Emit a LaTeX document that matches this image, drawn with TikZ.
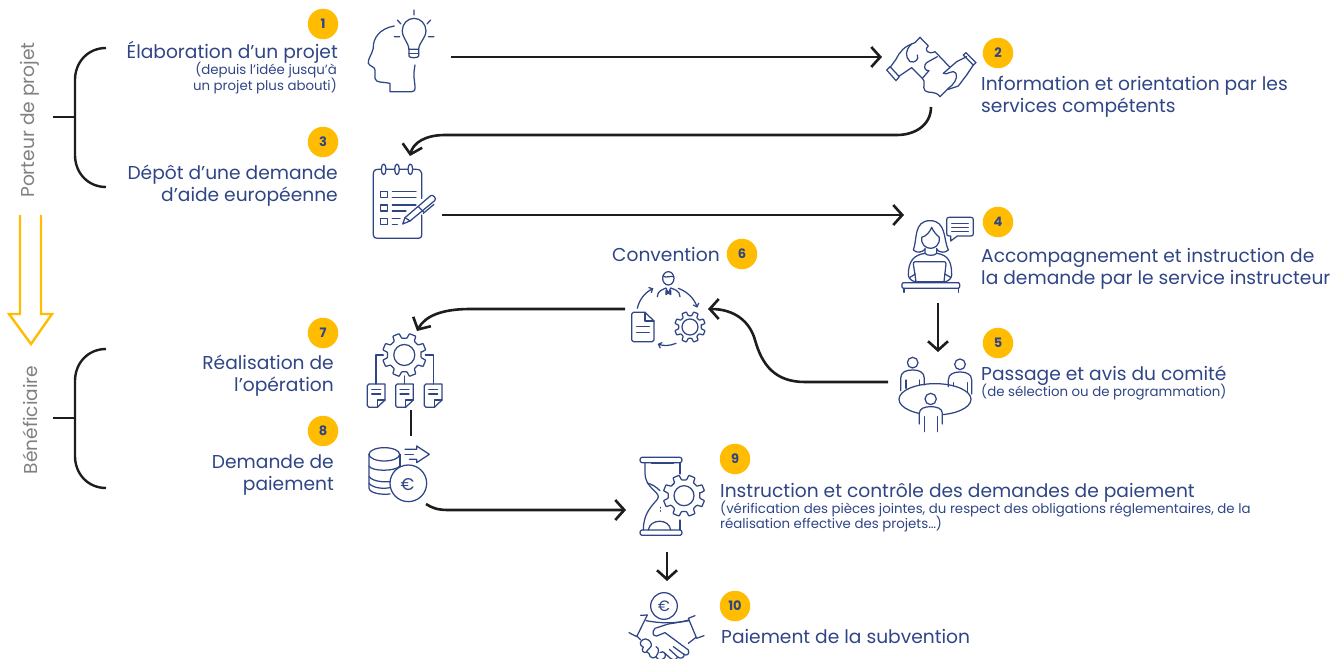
\documentclass[tikz,border=0pt]{standalone}
\usepackage{fontspec}
\setmainfont{Poppins}
\usetikzlibrary{arrows.meta}
\definecolor{navy}{HTML}{2F4585}
\definecolor{amber}{HTML}{FFBC00}
\definecolor{inkk}{HTML}{1D1D1B}
\definecolor{greyt}{HTML}{808080}
\tikzset{
 zm/.style 2 args={shift={(#1,#2)},x=.3333pt,y=-.3333pt},
 ico/.style={draw=navy,line width=1.25pt,line join=round,line cap=round},
 conn/.style={draw=inkk,line width=2.6pt},
 arr/.style={conn,-{Straight Barb[length=9pt,width=20pt,line width=2.6pt]}},
 brace/.style={draw=inkk,line width=2.4pt},
 badge/.style={circle,fill=amber,minimum size=30.5pt,inner sep=0pt,text=navy,font=\fontsize{13}{13}\selectfont\bfseries},
 big/.style={text=navy,inner sep=0pt,font=\fontsize{18.65}{18.65}\selectfont},
 small/.style={text=navy,inner sep=0pt,font=\fontsize{13.33}{13.33}\selectfont},
 role/.style={text=greyt,inner sep=0pt,rotate=90,font=\fontsize{18.65}{18.65}\selectfont},
}
\newcommand\gearshape[6]{% cx cy R rb hole teeth
 \pgfmathsetmacro\gstep{360/#6}
 \pgfmathsetmacro\gw{\gstep*0.2}
 \pgfmathsetmacro\gv{\gstep*0.3}
 \begin{scope}[shift={(#1,#2)},x=1pt,y=1pt]
 \draw[ico,fill=white,rounded corners=.6pt] (\gstep/2-\gv+0:#4)
  \foreach \k in {0,...,\numexpr#6-1\relax}{
   -- ({\k*\gstep+\gstep/2-\gv}:#4) -- ({\k*\gstep+\gstep/2-\gw}:#3) -- ({\k*\gstep+\gstep/2+\gw}:#3) -- ({\k*\gstep+\gstep/2+\gv}:#4)
  } -- cycle;
 \draw[ico] (0,0) circle (#5);
 \end{scope}}
\begin{document}
\begin{tikzpicture}[x=1pt,y=-1pt]
\useasboundingbox (0,0) rectangle (1332,658);
% badges
\node[badge] (b1) at (323,24) {1};
\node[badge] (b2) at (998,53) {2};
\node[badge] (b3) at (323,142) {3};
\node[badge] (b4) at (998,222) {4};
\node[badge] (b5) at (998,343) {5};
\node[badge] (b6) at (742,254) {6};
\node[badge] (b7) at (323,333) {7};
\node[badge] (b8) at (323,431) {8};
\node[badge] (b9) at (735,459) {9};
\node[badge] (b10) at (735,606) {10};
% labels
\node[big,anchor=base east] (t1) at (338,59) {Élaboration d’un projet};
\node[small,anchor=base east] (t1a) at (337,75) {(depuis l’idée jusqu’à};
\node[small,anchor=base east] (t1b) at (337,91) {un projet plus abouti)};
\node[big,anchor=base east] (t3) at (338,179) {Dépôt d’une demande};
\node[big,anchor=base east] (t3a) at (338,201) {d’aide européenne};
\node[big,anchor=base west] (t2) at (981,91) {Information et orientation par les};
\node[big,anchor=base west] (t2a) at (981,113) {services compétents};
\node[big,anchor=base west] (t4) at (981,262) {Accompagnement et instruction de};
\node[big,anchor=base west] (t4a) at (981,284) {la demande par le service instructeur};
\node[big,anchor=base west] (t5) at (981,380) {Passage et avis du comité};
\node[small,anchor=base west] (t5a) at (981,396) {(de sélection ou de programmation)};
\node[big,anchor=base west] (t6) at (612,261) {Convention};
\node[big,anchor=base east] (t7) at (334,369) {Réalisation de};
\node[big,anchor=base east] (t7a) at (334,391) {l’opération};
\node[big,anchor=base east] (t8) at (334,468) {Demande de};
\node[big,anchor=base east] (t8a) at (334,490) {paiement};
\node[big,anchor=base west] (t9) at (720,497) {Instruction et contrôle des demandes de paiement};
\node[small,anchor=base west] (t9a) at (720,513) {(vérification des pièces jointes, du respect des obligations réglementaires, de la};
\node[small,anchor=base west] (t9b) at (720,528) {réalisation effective des projets…)};
\node[big,anchor=base west] (t10) at (721,643) {Paiement de la subvention};
\node[role] (r1) at (30,120) {Porteur de projet};
\node[role] (r2) at (30,420) {Bénéficiaire};
% braces
\coordinate (ba) at (106,48); \coordinate (bb) at (106,187); \coordinate (bc) at (53,117); \coordinate (bd) at (75,117);
\draw[brace] (ba) .. controls (88,48) and (75,62) .. (75,80) -- (75,155) .. controls (75,173) and (88,187) .. (bb);
\draw[brace] (bc) -- (bd);
\coordinate (be) at (106,349); \coordinate (bf) at (106,488); \coordinate (bg) at (53,418); \coordinate (bh) at (75,418);
\draw[brace] (be) .. controls (88,349) and (75,363) .. (75,381) -- (75,456) .. controls (75,474) and (88,488) .. (bf);
\draw[brace] (bg) -- (bh);
% hollow arrow
\draw[amber,line width=2.4pt,line join=miter] (20,215) -- (20,314) -- (9,314) -- (31,344) -- (52,314) -- (41,314) -- (41,215);
% connector end points
\coordinate (a1) at (451,57); \coordinate (a2) at (882,57);
\coordinate (c1) at (931,107); \coordinate (c2) at (410,156);
\coordinate (d1) at (442,215); \coordinate (d2) at (904,215);
\coordinate (e1) at (938,303); \coordinate (e2) at (938,352);
\coordinate (f1) at (888,382); \coordinate (f2) at (708,309);
\coordinate (g1) at (625,309); \coordinate (g2) at (417,331);
\coordinate (h1) at (411,410); \coordinate (h2) at (411,436);
\coordinate (i1) at (426,504); \coordinate (i2) at (626,510);
\coordinate (j1) at (667,552); \coordinate (j2) at (667,581);
\draw[arr] (a1) -- (a2);
\draw[arr] (c1) .. controls (931,125) and (915,135) .. (897,135) -- (445,135) .. controls (425,135) and (413,143) .. (c2);
\draw[arr] (d1) -- (d2);
\draw[arr] (e1) -- (e2);
\draw[arr] (f1) -- (805,382) .. controls (775,382) and (762,365) .. (755,340) .. controls (750,322) and (735,309) .. (f2);
\draw[arr] (g1) -- (470,309) .. controls (442,309) and (425,316) .. (g2);
\draw[conn] (h1) -- (h2);
\draw[arr] (i1) .. controls (432,508) and (438,510) .. (448,510) -- (i2);
\draw[arr] (j1) -- (j2);
% icon 1
\begin{scope}[zm={0}{0}]
 \draw[ico] (1183,78) .. controls (1140,85) and (1118,115) .. (1120,145) .. controls (1115,165) and (1103,178) .. (1105,190) .. controls (1110,200) and (1125,200) .. (1125,210) -- (1125,235) .. controls (1127,250) and (1150,245) .. (1170,250) -- (1170,275) -- (1235,275) .. controls (1250,275) and (1245,260) .. (1243,240) .. controls (1240,225) and (1243,210) .. (1245,195);
 \draw[ico] (1227,148) .. controls (1225,125) and (1207,115) .. (1207,92) .. controls (1207,72) and (1222,55) .. (1242,55) .. controls (1262,55) and (1278,72) .. (1278,92) .. controls (1278,115) and (1258,125) .. (1256,148) -- cycle;
 \draw[ico] (1227,148) -- (1227,168) .. controls (1227,175) and (1256,175) .. (1256,168) -- (1256,148);
 \draw[ico] (1227,160) -- (1256,160);
 \draw[ico] (1242,30) -- (1242,45) (1192,60) -- (1203,72) (1292,60) -- (1281,72) (1183,110) -- (1199,110) (1285,110) -- (1302,110);
\end{scope}
% icon 2
\begin{scope}[zm={860}{20}]
 \draw[ico] (80,150) -- (90,140) -- (118,170) -- (108,182) -- cycle;
 \draw[ico] (92,140) -- (108,118) .. controls (120,95) and (130,80) .. (165,68) -- (180,52) -- (205,78) .. controls (190,90) and (205,105) .. (225,95) -- (268,140);
 \draw[ico] (118,168) -- (155,143) -- (187,175);
 \draw[ico] (155,72) .. controls (135,90) and (135,110) .. (150,125) .. controls (165,130) and (178,118) .. (172,105);
 \draw[ico] (232,110) -- (205,125) .. controls (185,135) and (195,155) .. (207,152) -- (187,175) .. controls (200,185) and (185,200) .. (195,212) .. controls (205,222) and (225,210) .. (240,230) -- (265,205);
 \draw[ico] (318,98) -- (348,128) -- (340,135) -- (310,105) -- cycle;
 \draw[ico] (250,160) -- (290,125) -- (320,110);
 \draw[ico] (340,135) -- (320,165) -- (295,198) -- (265,208);
 \draw[ico] (250,160) .. controls (260,168) and (280,145) .. (288,160) .. controls (295,175) and (280,195) .. (265,205);
\end{scope}
% icon 3
\begin{scope}[zm={360}{150}]
 \draw[ico] (185,145) -- (185,70) .. controls (185,62) and (178,58) .. (168,58) -- (158,58) (144,58) -- (118,58) (104,58) -- (78,58) (64,58) -- (55,58) .. controls (45,58) and (40,62) .. (40,72) -- (40,255) .. controls (40,262) and (45,265) .. (52,265) -- (175,265) .. controls (182,265) and (185,262) .. (185,255) -- (185,195);
 \foreach \p in {71,111,151} \draw[ico] (\p,58) ellipse (7 and 16);
 \foreach \q in {125,165,205} \draw[ico] (62,\q) rectangle (82,\q+18);
 \draw[ico] (97,125) -- (168,125) (97,142) -- (168,142) (97,165) -- (168,165) (97,183) -- (138,183) (97,205) -- (120,205) (97,223) -- (112,223);
 \draw[ico] (128,222) -- (135,203) -- (212,137) .. controls (218,132) and (232,146) .. (224,152) -- (150,213) -- cycle;
 \draw[ico] (135,203) -- (150,213) (175,170) -- (190,185) (190,190) -- (222,163);
\end{scope}
% icon 4 & 5
\begin{scope}[zm={880}{200}]
 \draw[ico] (100,150) .. controls (112,120) and (100,62) .. (150,62) .. controls (200,62) and (190,120) .. (205,150) .. controls (195,160) and (178,158) .. (170,148) (100,150) .. controls (110,160) and (125,158) .. (135,148);
 \draw[ico] (125,112) .. controls (140,108) and (150,95) .. (155,82) .. controls (160,95) and (170,105) .. (178,112) .. controls (180,135) and (165,145) .. (152,145) .. controls (138,145) and (123,135) .. (125,112);
 \draw[ico] (135,145) -- (135,160) .. controls (140,168) and (165,168) .. (170,160) -- (170,145);
 \draw[ico] (135,160) .. controls (100,165) and (85,185) .. (85,225) .. controls (85,235) and (95,243) .. (105,245);
 \draw[ico] (170,160) .. controls (205,165) and (215,185) .. (215,225) .. controls (215,235) and (205,243) .. (197,245);
 \draw[ico] (108,245) -- (100,192) .. controls (100,187) and (102,185) .. (106,185) -- (192,185) .. controls (196,185) and (198,187) .. (198,192) -- (192,245);
 \draw[ico] (90,232) -- (106,222) (212,232) -- (194,222);
 \draw[ico] (70,248) -- (235,248) .. controls (241,248) and (241,265) .. (235,265) -- (70,265) .. controls (64,265) and (64,248) .. (70,248) -- cycle;
 \draw[ico,line width=1.5pt] (105,246) -- (197,246);
 \draw[ico] (72,265) -- (72,277) (235,265) -- (235,277);
 \draw[ico] (208,52) -- (272,52) .. controls (278,52) and (280,54) .. (280,60) -- (280,100) .. controls (280,106) and (278,108) .. (272,108) -- (232,108) -- (212,123) -- (212,108) -- (208,108) .. controls (202,108) and (200,106) .. (200,100) -- (200,60) .. controls (200,54) and (202,52) .. (208,52) -- cycle;
 \draw[ico] (215,70) -- (265,70) (215,82) -- (265,82) (215,94) -- (265,94);
 % committee
 \draw[ico] (98,488) circle (16);
 \draw[ico] (62,572) -- (62,535) .. controls (62,515) and (80,510) .. (98,510) .. controls (115,510) and (133,515) .. (133,535) -- (133,555);
 \draw[ico] (78,540) -- (78,565) (118,540) -- (118,555);
 \draw[ico] (240,493) circle (16);
 \draw[ico] (205,560) -- (205,540) .. controls (205,522) and (222,516) .. (240,516) .. controls (258,516) and (275,522) .. (275,540) -- (275,582);
 \draw[ico] (220,548) -- (220,558) (262,548) -- (262,575);
 \draw[ico] (165,598) ellipse (108 and 47);
 \fill[white] (117,625) rectangle (188,660);
 \draw[ico] (152,597) circle (17);
 \draw[ico] (118,672) -- (118,640) .. controls (118,625) and (135,620) .. (152,620) .. controls (170,620) and (187,625) .. (187,640) -- (187,672);
 \draw[ico] (133,650) -- (133,695) (172,650) -- (172,695);
\end{scope}
% icon 6
\begin{scope}[zm={600}{260}]
 \draw[ico] (205,55) ellipse (17 and 20);
 \draw[ico] (189,48) .. controls (197,55) and (212,47) .. (221,50);
 \draw[ico] (172,110) .. controls (172,92) and (190,88) .. (198,84) -- (205,100) -- (212,84) .. controls (222,88) and (240,92) .. (240,110);
 \draw[ico] (198,92) -- (198,104) -- (212,92) -- (212,104) -- cycle;
 \draw[ico] (100,157) -- (135,157) -- (162,183) -- (162,240) .. controls (162,244) and (160,245) .. (157,245) -- (100,245) .. controls (97,245) and (95,244) .. (95,240) -- (95,162) .. controls (95,159) and (97,157) .. (100,157) -- cycle;
 \draw[ico] (135,157) -- (135,183) -- (162,183);
 \draw[ico] (110,200) -- (148,200) (110,218) -- (148,218);
 \draw[ico,-{Straight Barb[length=3pt,width=6pt]}] (112,145) .. controls (118,118) and (135,98) .. (160,85);
 \draw[ico,-{Straight Barb[length=3pt,width=6pt]}] (235,85) .. controls (262,95) and (282,115) .. (292,143);
 \draw[ico,-{Straight Barb[length=3pt,width=6pt]}] (228,250) .. controls (210,258) and (190,258) .. (173,252);
\end{scope}
\gearshape{690}{327}{15.5}{11.5}{8}{8}
% icon 7
\begin{scope}[zm={350}{320}]
 \draw[ico] (100,105) -- (78,105) -- (78,192) (226,105) -- (250,105) -- (250,192) (163,168) -- (163,192);
 \foreach \dx in {0,85,171}{
  \begin{scope}[xshift=\dx*.3333pt]
  \draw[ico] (57,192) -- (105,192) -- (105,240) -- (82,262) -- (57,262) .. controls (53,262) and (52,260) .. (52,257) -- (52,197) .. controls (52,194) and (53,192) .. (57,192) -- cycle;
  \draw[ico] (105,240) -- (82,240) -- (82,262);
  \draw[ico] (65,208) -- (92,208) (65,222) -- (92,222);
  \end{scope}}
\end{scope}
\gearshape{404.3}{355}{22}{17}{10.5}{8}
% icon 8
\begin{scope}[zm={350}{320}]
 \draw[ico] (103,403) ellipse (46 and 20);
 \draw[ico] (57,403) -- (57,505) .. controls (60,520) and (95,525) .. (120,522);
 \draw[ico] (150,403) -- (150,440);
 \draw[ico] (57,438) .. controls (65,455) and (135,455) .. (150,438);
 \draw[ico] (57,470) .. controls (70,485) and (100,487) .. (125,485);
 \draw[ico] (57,490) .. controls (70,505) and (100,507) .. (120,503);
 \draw[ico] (165,388) -- (200,388) -- (200,378) -- (238,403) -- (200,428) -- (200,418) -- (178,418);
 \draw[ico] (165,403) -- (190,403);
 \draw[ico,fill=white] (175,490) circle (55);
\end{scope}
\node[text=navy,inner sep=0pt,font=\fontsize{17}{17}\selectfont] (eu1) at (407.5,484.5) {€};
% icon 9
\begin{scope}[zm={610}{450}]
 \draw[ico] (96,22) -- (210,22) .. controls (218,22) and (218,38) .. (210,38) -- (96,38) .. controls (88,38) and (88,22) .. (96,22) -- cycle;
 \draw[ico] (96,240) -- (210,240) .. controls (218,240) and (218,256) .. (210,256) -- (96,256) .. controls (88,256) and (88,240) .. (96,240) -- cycle;
 \draw[ico,line width=1.8pt] (125,38) -- (190,38);
 \draw[ico] (105,38) -- (105,70) .. controls (105,110) and (145,125) .. (145,140) .. controls (145,155) and (100,175) .. (100,240);
 \draw[ico] (210,38) -- (210,72) (210,210) -- (210,240);
 \draw[ico] (112,100) .. controls (125,102) and (135,108) .. (150,122);
 \draw[ico] (115,240) .. controls (120,205) and (178,205) .. (182,240);
 \draw[ico] (152,172) -- (152,174) (152,182) -- (152,184);
\end{scope}
\gearshape{684}{495.7}{21}{16}{10}{8}
% icon 10
\begin{scope}[zm={610}{450}]
 \draw[ico] (162,468) circle (40);
 \draw[ico] (57,548) -- (80,560) -- (112,495) -- (92,496);
 \draw[ico] (255,497) -- (235,505) -- (260,565) -- (282,557);
 \draw[ico] (108,512) .. controls (150,520) and (195,522) .. (237,510);
 \draw[ico] (80,558) -- (92,570);
 \draw[ico] (238,512) -- (175,522) -- (135,535) .. controls (125,545) and (128,560) .. (140,558) -- (165,548) -- (235,600) .. controls (240,612) and (230,620) .. (220,612) -- (190,590);
 \draw[ico] (258,562) -- (235,580);
 \draw[ico] (222,612) .. controls (225,622) and (212,630) .. (202,620) -- (178,598);
 \draw[ico] (202,622) .. controls (200,630) and (190,632) .. (180,624) -- (165,610);
 \draw[ico] (115,570) .. controls (105,560) and (85,575) .. (92,585) -- (100,592) .. controls (92,600) and (100,612) .. (112,606) -- (118,612) .. controls (118,622) and (130,628) .. (138,620) .. controls (142,632) and (158,632) .. (165,622) .. controls (170,612) and (160,600) .. (150,608);
 \draw[ico] (115,570) .. controls (125,575) and (128,590) .. (118,595) -- (110,604);
 \draw[ico] (138,590) .. controls (148,595) and (148,605) .. (138,620);
\end{scope}
\node[text=navy,inner sep=0pt,font=\fontsize{15}{15}\selectfont] (eu2) at (664,606) {€};
\end{tikzpicture}
\end{document}
